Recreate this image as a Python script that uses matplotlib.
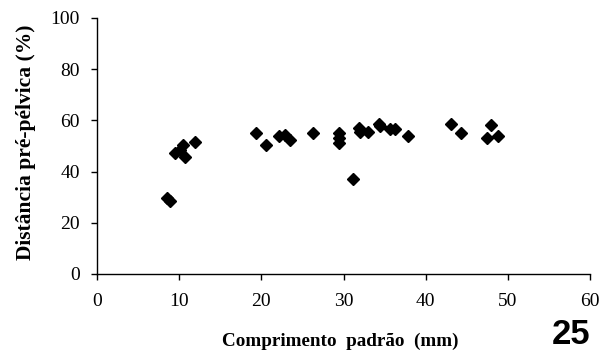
import matplotlib
matplotlib.use("Agg")
import matplotlib.pyplot as plt

# Standard length (mm) and pre-pelvic distance (% of standard length)
comprimento = [8.5, 8.9, 9.5, 10.1, 10.5, 10.7, 11.9,
               19.4, 20.6, 22.1, 22.9, 23.5, 26.3,
               29.5, 29.5, 29.5, 31.1, 31.9, 32.0, 33.0,
               34.3, 34.4, 35.7, 36.3, 37.8,
               43.1, 44.3, 47.5, 48.0, 48.8]
distancia = [29.5, 28.7, 47.3, 48.4, 50.4, 45.8, 51.4,
             55.0, 50.4, 53.9, 54.3, 52.4, 55.0,
             55.0, 53.0, 51.3, 37.1, 56.9, 55.6, 55.3,
             58.6, 57.9, 56.5, 56.5, 53.9,
             58.6, 55.0, 53.0, 58.2, 54.0]

x_ticks = [0, 10, 20, 30, 40, 50, 60]
y_ticks = [0, 20, 40, 60, 80, 100]

fig = plt.figure(figsize=(6.11, 3.52), dpi=100)
ax = fig.add_axes([0.1588, 0.2216, 0.8068, 0.7273])

ax.plot(comprimento, distancia, linestyle="none", marker="D",
        markersize=6.4, color="black")

ax.set_xlim(0, 60)
ax.set_ylim(0, 100)
ax.set_xticks(x_ticks)
ax.set_yticks(y_ticks)

serif = "Liberation Serif"
for s in ("top", "right"):
    ax.spines[s].set_visible(False)
for s in ("left", "bottom"):
    ax.spines[s].set_linewidth(1.0)
ax.tick_params(axis="both", direction="out", length=4.5, width=1.0,
               labelsize=14)
ax.tick_params(axis="y", pad=8)
ax.tick_params(axis="x", pad=9)
for lab in ax.get_xticklabels() + ax.get_yticklabels():
    lab.set_fontfamily(serif)

fig.text(0.557, 0.017, "Comprimento  padrão  (mm)", family=serif,
         weight="bold", fontsize=13.8, ha="center", va="baseline")
fig.text(0.042, 0.595, "Distância pré-pélvica (%)", family=serif,
         weight="bold", fontsize=15.5, ha="center", va="center",
         rotation=90)
fig.text(0.966, 0.022, "25", family="Liberation Sans", weight="bold",
         fontsize=25, ha="right", va="baseline")

fig.savefig("out.png", dpi=100)
